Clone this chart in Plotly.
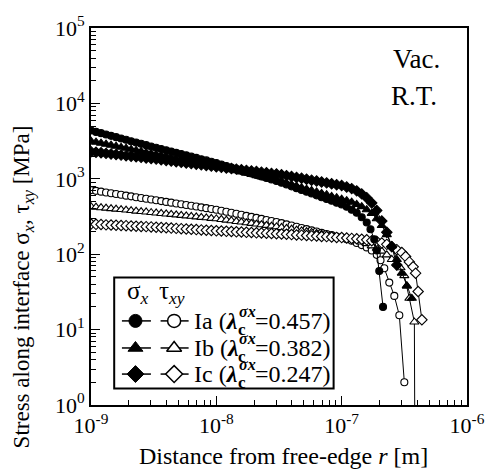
import plotly.graph_objects as go

# ---------------- data ----------------
# sampling positions: log10(r [m])
base_exp = [-9.00, -8.96, -8.92, -8.88, -8.84, -8.80, -8.76, -8.72, -8.68, -8.64,
            -8.60, -8.56, -8.52, -8.48, -8.44, -8.40, -8.36, -8.32, -8.28, -8.24,
            -8.20, -8.16, -8.12, -8.08, -8.04, -8.00, -7.96, -7.92, -7.88, -7.84,
            -7.80, -7.76, -7.72, -7.68, -7.64, -7.60, -7.56, -7.52, -7.48, -7.44,
            -7.40, -7.36, -7.32, -7.28, -7.24, -7.20, -7.16, -7.12, -7.08, -7.04,
            -7.00]

# sigma_x [MPa]
sx_Ia = [4370, 4190, 4030, 3864, 3715, 3565, 3420, 3289, 3155, 3034,
         2911, 2793, 2685, 2582, 2483, 2388, 2296, 2208, 2128, 2046,
         1968, 1892, 1820, 1754, 1687, 1622, 1549, 1479, 1413, 1349,
         1288, 1230, 1175, 1122, 1072, 1023, 977, 933, 887, 839,
         794, 752, 711, 673, 637, 603, 570, 540, 511, 483,
         457]
sx_Ia_tail_exp = [-6.96, -6.92, -6.88, -6.84, -6.80, -6.77, -6.74, -6.72, -6.70, -6.67]
sx_Ia_tail = [427, 389, 355, 309, 263, 214, 158, 112, 60, 20]

sx_Ib = [3162, 3062, 2972, 2877, 2793, 2704, 2618, 2541, 2460, 2388,
         2312, 2239, 2173, 2109, 2046, 1986, 1932, 1875, 1820, 1766,
         1714, 1663, 1614, 1570, 1524, 1479, 1426, 1374, 1324, 1276,
         1230, 1186, 1143, 1102, 1062, 1023, 986, 951, 912, 873,
         836, 800, 764, 731, 700, 670, 641, 614, 586, 561,
         537]
sx_Ib_tail_exp = [-6.96, -6.92, -6.88, -6.84, -6.80, -6.76, -6.72, -6.68, -6.64, -6.60,
                  -6.56, -6.52, -6.48, -6.44]
sx_Ib_tail = [513, 490, 457, 427, 389, 347, 295, 240, 182, 129, 85, 56, 38, 26]

sx_Ic = [2291, 2249, 2213, 2173, 2138, 2099, 2061, 2028, 1991, 1959,
         1923, 1888, 1858, 1824, 1786, 1754, 1722, 1687, 1656, 1622,
         1592, 1563, 1531, 1503, 1472, 1445, 1419, 1393, 1368, 1343,
         1318, 1294, 1271, 1247, 1225, 1202, 1180, 1159, 1132, 1102,
         1072, 1042, 1014, 986, 959, 933, 908, 883, 859, 836,
         813]
sx_Ic_tail_exp = [-6.96, -6.92, -6.88, -6.84, -6.80, -6.76, -6.72, -6.68, -6.64, -6.60,
                  -6.56]
sx_Ic_tail = [776, 741, 692, 631, 562, 479, 380, 275, 195, 126, 72]

# tau_xy [MPa]
txy_Ia = [708, 692, 675, 659, 643, 628, 614, 598, 585, 570,
          557, 545, 531, 519, 506, 494, 483, 471, 460, 449,
          439, 429, 418, 408, 398, 389, 377, 366, 354, 344,
          333, 322, 313, 303, 294, 284, 275, 267, 258, 249,
          240, 231, 223, 215, 207, 200, 192, 185, 179, 172,
          166]
txy_Ia_tail_exp = [-6.96, -6.92, -6.88, -6.84, -6.80, -6.76, -6.72, -6.69, -6.66, -6.62,
                   -6.58, -6.54, -6.50]
txy_Ia_tail = [158, 151, 141, 132, 123, 112, 98, 83, 65, 42, 28, 15.5, 2.0]

txy_Ib = [427, 421, 414, 408, 402, 396, 391, 385, 379, 373,
          368, 363, 357, 352, 347, 342, 337, 332, 327, 322,
          318, 313, 308, 304, 299, 295, 289, 283, 278, 272,
          267, 261, 256, 251, 246, 241, 236, 231, 226, 220,
          215, 209, 204, 199, 194, 189, 184, 179, 175, 170,
          166]
txy_Ib_tail_exp = [-6.96, -6.92, -6.88, -6.84, -6.80, -6.76, -6.72, -6.68, -6.64, -6.60,
                   -6.56, -6.53, -6.50, -6.48, -6.46, -6.42, -6.41]
txy_Ib_tail = [162, 158, 151, 145, 138, 129, 120, 110, 98, 85, 74, 66, 52, 38, 26, 12.6, 0.001]

txy_Ic = [251, 249, 248, 245, 244, 242, 240, 239, 237, 235,
          233, 232, 230, 228, 226, 224, 222, 220, 218, 216,
          214, 212, 210, 208, 206, 204, 203, 201, 200, 198,
          197, 195, 194, 192, 191, 190, 188, 187, 185, 184,
          182, 180, 179, 177, 175, 174, 172, 171, 169, 167,
          166]
txy_Ic_tail_exp = [-6.96, -6.92, -6.88, -6.84, -6.80, -6.76, -6.72, -6.68, -6.64, -6.60,
                   -6.56, -6.52, -6.49, -6.46, -6.43, -6.41, -6.39, -6.36]
txy_Ic_tail = [164, 162, 160, 158, 155, 151, 148, 141, 135, 126, 115, 105, 93, 79, 68, 56, 32, 13.5]

x_tick_vals = [1e-9, 1e-8, 1e-7, 1e-6]
x_tick_text = ["10<sup>-9</sup>", "10<sup>-8</sup>", "10<sup>-7</sup>", "10<sup>-6</sup>"]
y_tick_vals = [1, 10, 100, 1000, 10000, 100000]
y_tick_text = ["10<sup>0</sup>", "10<sup>1</sup>", "10<sup>2</sup>", "10<sup>3</sup>",
               "10<sup>4</sup>", "10<sup>5</sup>"]

legend_names = ["Ia", "Ib", "Ic"]
legend_lambda = ["0.457", "0.382", "0.247"]

# ---------------- figure ----------------
FONT = "Liberation Serif"
W, H = 497, 473
L, R, T, B = 91, 480, 15, 405  # plot area in pixels


def rr(exps):
    return [10 ** e for e in exps]


fig = go.Figure()

series = [
    ("tau Ia", base_exp + txy_Ia_tail_exp, txy_Ia + txy_Ia_tail, "circle", False, 7),
    ("tau Ib", base_exp + txy_Ib_tail_exp, txy_Ib + txy_Ib_tail, "triangle-up", False, 8),
    ("tau Ic", base_exp + txy_Ic_tail_exp, txy_Ic + txy_Ic_tail, "diamond", False, 8),
    ("sig Ic", base_exp + sx_Ic_tail_exp, sx_Ic + sx_Ic_tail, "diamond", True, 8),
    ("sig Ib", base_exp + sx_Ib_tail_exp, sx_Ib + sx_Ib_tail, "triangle-up", True, 8),
    ("sig Ia", base_exp + sx_Ia_tail_exp, sx_Ia + sx_Ia_tail, "circle", True, 7),
]
for name, ex, ys, sym, filled, sz in series:
    fig.add_trace(go.Scatter(
        x=rr(ex), y=ys, mode="lines+markers", name=name, showlegend=False,
        line=dict(color="black", width=1),
        marker=dict(symbol=sym, size=sz, color="black" if filled else "white",
                    line=dict(color="black", width=1.1)),
        hoverinfo="skip"))

# ---- legend drawn on an overlay axis measured in pixels ----
rows_y = [318, 346, 373]
syms = ["circle", "triangle-up", "diamond"]
for yy, sym in zip(rows_y, syms):
    fig.add_trace(go.Scatter(x=[123, 153], y=[yy, yy], mode="lines", xaxis="x2", yaxis="y2",
                             line=dict(color="black", width=1.5), showlegend=False, hoverinfo="skip"))
    fig.add_trace(go.Scatter(x=[163, 192], y=[yy, yy], mode="lines", xaxis="x2", yaxis="y2",
                             line=dict(color="black", width=1.5), showlegend=False, hoverinfo="skip"))
    fig.add_trace(go.Scatter(x=[137], y=[yy], mode="markers", xaxis="x2", yaxis="y2",
                             marker=dict(symbol=sym, size=13, color="black",
                                         line=dict(color="black", width=1)),
                             showlegend=False, hoverinfo="skip"))
    fig.add_trace(go.Scatter(x=[177], y=[yy], mode="markers", xaxis="x2", yaxis="y2",
                             marker=dict(symbol=sym, size=13, color="white",
                                         line=dict(color="black", width=1.5)),
                             showlegend=False, hoverinfo="skip"))

shapes = [dict(type="rect", xref="x2", yref="y2", x0=115, x1=342, y0=273, y1=388,
               line=dict(color="black", width=2), fillcolor="rgba(0,0,0,0)")]

ann = []


def txt(x, y, s, size, xanchor="left", yanchor="middle", **kw):
    ann.append(dict(x=x, y=y, xref="x2", yref="y2", text=s, showarrow=False,
                    xanchor=xanchor, yanchor=yanchor,
                    font=dict(family=FONT, size=size, color="black"), **kw))


txt(126, 289, "σ<sub><i>x</i></sub>", 25)
txt(159, 289, "τ<sub><i>xy</i></sub>", 25)
for yy, nm, lam in zip(rows_y, legend_names, legend_lambda):
    txt(196, yy, nm + " (<b><i>λ</i></b>", 24)
    txt(242, yy - 10, "<b><i>σx</i></b>", 16)
    txt(241, yy + 9, "<b>c</b>", 17)
    txt(259, yy, "=" + lam + ")", 24)

txt(401, 47, "Vac.", 27)
txt(399, 85, "R.T.", 27)

# axis titles (paper coords)
ann.append(dict(x=(290 - L) / (R - L), y=(B - 458) / (B - T), xref="paper", yref="paper",
                text="Distance from free-edge <i>r</i> [m]", showarrow=False,
                xanchor="center", yanchor="middle",
                font=dict(family=FONT, size=24, color="black")))
ann.append(dict(x=(21 - L) / (R - L), y=(B - 283) / (B - T), xref="paper", yref="paper",
                text="Stress along interface σ<sub><i>x</i></sub>, τ<sub><i>xy</i></sub> [MPa]",
                showarrow=False, textangle=-90, xanchor="center", yanchor="middle",
                font=dict(family=FONT, size=23, color="black")))

x_minor = [m * 10 ** d for d in (-9, -8, -7) for m in range(2, 10)]
y_minor = [m * 10 ** d for d in (0, 1, 2, 3, 4) for m in range(2, 10)]

fig.update_layout(
    width=W, height=H,
    margin=dict(l=L, r=W - R, t=T, b=H - B),
    paper_bgcolor="white", plot_bgcolor="white",
    showlegend=False,
    font=dict(family=FONT, size=22, color="black"),
    xaxis=dict(type="log", range=[-9, -6], showgrid=False, zeroline=False,
               showline=True, linecolor="black", linewidth=1.8, mirror=True,
               ticks="inside", ticklen=9, tickwidth=1.2, tickcolor="black",
               tickmode="array", tickvals=x_tick_vals, ticktext=x_tick_text,
               ticklabeloverflow="allow",
               tickfont=dict(family=FONT, size=22, color="black"),
               minor=dict(ticks="inside", ticklen=5, tickwidth=1, tickcolor="black",
                          tickmode="array", tickvals=x_minor, showgrid=False)),
    yaxis=dict(type="log", range=[0, 5], showgrid=False, zeroline=False,
               showline=True, linecolor="black", linewidth=1.8, mirror=True,
               ticks="inside", ticklen=9, tickwidth=1.2, tickcolor="black",
               tickmode="array", tickvals=y_tick_vals, ticktext=y_tick_text,
               ticklabeloverflow="allow",
               tickfont=dict(family=FONT, size=22, color="black"),
               minor=dict(ticks="inside", ticklen=5, tickwidth=1, tickcolor="black",
                          tickmode="array", tickvals=y_minor, showgrid=False)),
    xaxis2=dict(overlaying="x", anchor="y2", range=[L, R], visible=False, fixedrange=True),
    yaxis2=dict(overlaying="y", anchor="x2", range=[B, T], visible=False, fixedrange=True),
    shapes=shapes,
    annotations=ann,
)

fig.write_html("out.html")
